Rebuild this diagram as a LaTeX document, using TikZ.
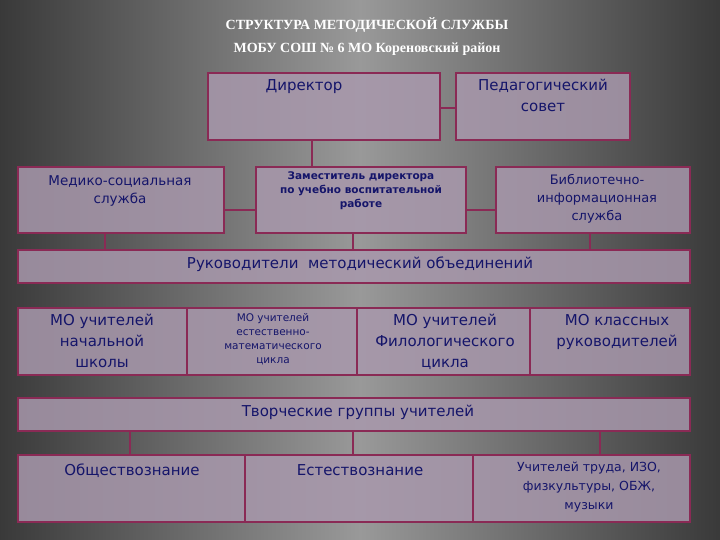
\documentclass[tikz,border=0pt]{standalone}
\usepackage{fontspec}
\setmainfont{Liberation Serif}
\newfontfamily\boxfont{DejaVu Sans}
\usetikzlibrary{positioning}
\definecolor{bord}{HTML}{8A2A55}
\definecolor{boxfill}{HTML}{A898AC}
\definecolor{txt}{HTML}{15156A}
\tikzset{
  box/.style={draw=bord,line width=1.6pt,fill=boxfill,fill opacity=0.85,inner sep=0pt},
  lbl/.style={text=txt,font=\boxfont,align=center,anchor=north,inner sep=0pt},
  con/.style={draw=bord,line width=1.6pt},
}
\begin{document}
\begin{tikzpicture}[x=1pt,y=-1pt]
\useasboundingbox (0,0) rectangle (720,540);
\shade[shading angle=135,left color=gray!45!black,right color=gray!45!black,middle color=gray!80] (0,0) rectangle (720,540);
\node[text=white,font=\bfseries\fontsize{14}{23}\selectfont,align=center] (title) at (367,37) {СТРУКТУРА МЕТОДИЧЕСКОЙ СЛУЖБЫ\\МОБУ СОШ № 6 МО Кореновский район};
% boxes
\node[box,minimum width=232,minimum height=67] (dir) at (324,106.5) {};
\node[box,minimum width=174,minimum height=67] (ped) at (543,106.5) {};
\node[box,minimum width=206,minimum height=66] (med) at (121,200) {};
\node[box,minimum width=210,minimum height=66] (zam) at (361,200) {};
\node[box,minimum width=194,minimum height=66] (bib) at (593,200) {};
\node[box,minimum width=672,minimum height=33] (ruk) at (354,266.5) {};
\node[box,minimum width=169,minimum height=67] (mo1) at (102.5,341.5) {};
\node[box,minimum width=170,minimum height=67] (mo2) at (272,341.5) {};
\node[box,minimum width=173,minimum height=67] (mo3) at (443.5,341.5) {};
\node[box,minimum width=160,minimum height=67] (mo4) at (610,341.5) {};
\node[box,minimum width=672,minimum height=33] (tvo) at (354,414.5) {};
\node[box,minimum width=227,minimum height=67] (b1) at (131.5,488.5) {};
\node[box,minimum width=228,minimum height=67] (b2) at (359,488.5) {};
\node[box,minimum width=217,minimum height=67] (b3) at (581.5,488.5) {};
% labels
\node[lbl,font=\boxfont\fontsize{15}{19}\selectfont] (tdir) at (304,79) {Директор};
\node[lbl,font=\boxfont\fontsize{15}{21}\selectfont] (tped) at (543,79) {Педагогический\\совет};
\node[lbl,font=\boxfont\fontsize{13.5}{18}\selectfont] (tmed) at (120,175) {Медико-социальная\\служба};
\node[lbl,font=\boxfont\bfseries\fontsize{10.5}{14}\selectfont] (tzam) at (361,172) {Заместитель директора\\по учебно воспитательной\\работе};
\node[lbl,font=\boxfont\fontsize{13}{18}\selectfont] (tbib) at (597,174) {Библиотечно-\\информационная\\служба};
\node[lbl,font=\boxfont\fontsize{15}{19}\selectfont] (truk) at (360,257) {Руководители\ \ методический объединений};
\node[lbl,font=\boxfont\fontsize{15}{21}\selectfont] (tmo1) at (102,314) {МО учителей\\начальной\\школы};
\node[lbl,font=\boxfont\fontsize{10.5}{14}\selectfont] (tmo2) at (273,313) {МО учителей\\естественно-\\математического\\цикла};
\node[lbl,font=\boxfont\fontsize{15}{21}\selectfont] (tmo3) at (445,314) {МО учителей\\Филологического\\цикла};
\node[lbl,font=\boxfont\fontsize{15}{21}\selectfont] (tmo4) at (617,314) {МО классных\\руководителей};
\node[lbl,font=\boxfont\fontsize{15}{19}\selectfont] (ttvo) at (358,405) {Творческие группы учителей};
\node[lbl,font=\boxfont\fontsize{15}{19}\selectfont] (tb1) at (132,464) {Обществознание};
\node[lbl,font=\boxfont\fontsize{15}{19}\selectfont] (tb2) at (360,464) {Естествознание};
\node[lbl,font=\boxfont\fontsize{12.5}{19}\selectfont] (tb3) at (589,462) {Учителей труда, ИЗО,\\физкультуры, ОБЖ,\\музыки};
% connectors
\coordinate (ya) at (0,108);
\coordinate (yb) at (0,210);
\draw[con] (dir.east|-ya) -- (ped.west|-ya);
\draw[con] (dir.south-|312,0) -- (zam.north-|312,0);
\draw[con] (med.east|-yb) -- (zam.west|-yb);
\draw[con] (zam.east|-yb) -- (bib.west|-yb);
\draw[con] (med.south-|105,0) -- (ruk.north-|105,0);
\draw[con] (zam.south-|353,0) -- (ruk.north-|353,0);
\draw[con] (bib.south-|590,0) -- (ruk.north-|590,0);
\draw[con] (tvo.south-|130,0) -- (b1.north-|130,0);
\draw[con] (tvo.south-|353,0) -- (b2.north-|353,0);
\draw[con] (tvo.south-|600,0) -- (b3.north-|600,0);
\end{tikzpicture}
\end{document}
